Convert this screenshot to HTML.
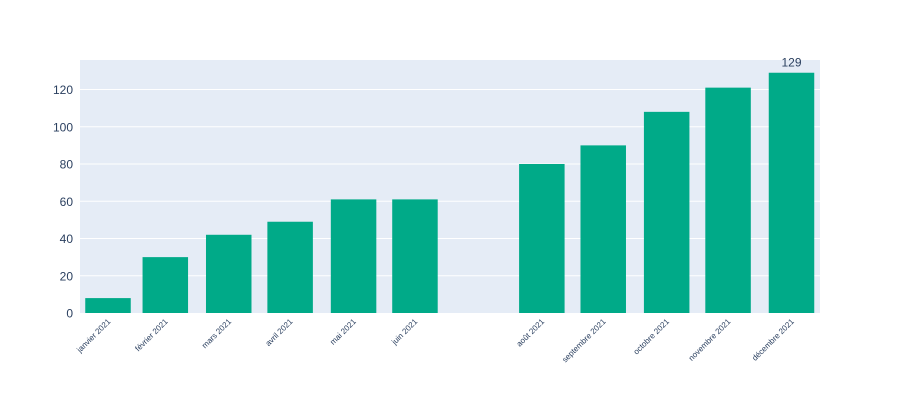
<!DOCTYPE html>
<html><head><meta charset="utf-8"><style>
body{margin:0;background:#fff;font-family:"Liberation Sans",Arial,sans-serif}
</style></head><body>
<svg id="chart" width="900" height="400" xmlns="http://www.w3.org/2000/svg">
<rect x="80" y="60" width="740" height="253" fill="#e5ecf6"/>
<g id="grid"></g><g id="bars"></g><g id="labels"></g>
</svg>
<script>
const categories=["janvier 2021","février 2021","mars 2021","avril 2021","mai 2021","juin 2021","août 2021","septembre 2021","octobre 2021","novembre 2021","décembre 2021"];
const dayOfYear=[30,58,89,119,150,180,242,272,303,333,364];
const values=[8,30,42,49,61,61,80,90,108,121,129];
const yTicks=[0,20,40,60,80,100,120];
const NS="http://www.w3.org/2000/svg";
const xs=d=>108+(d-30)*(683.5/334);
const ys=v=>313-v*(223.5/120);
function mk(t,a,p){const e=document.createElementNS(NS,t);for(const k in a)e.setAttribute(k,a[k]);p.appendChild(e);return e;}
const grid=document.getElementById('grid'),bars=document.getElementById('bars'),labels=document.getElementById('labels');
yTicks.forEach(v=>{
 if(v>0){const l=mk('line',{x1:80,x2:820,y1:ys(v),y2:ys(v),stroke:'#fff','stroke-width':1},grid);
 
 }
 const t=mk('text',{x:73,y:ys(v)+4.5,'text-anchor':'end','font-size':12,fill:'#2a3f5f'},labels);
 t.textContent=v;
 
 
});
const bw=45.5;
values.forEach((v,i)=>{
 const cx=xs(dayOfYear[i]);
 const r=mk('rect',{x:cx-bw/2,y:ys(v),width:bw,height:ys(0)-ys(v),fill:'#00aa88'},bars);
 
 
 const t=mk('text',{x:cx+3,y:322,'text-anchor':'end','font-size':8,fill:'#2a3f5f',transform:`rotate(-45 ${cx+3} 322)`},labels);
 t.textContent=categories[i];
 
 
});
const last=values.length-1;
const vt=mk('text',{x:xs(dayOfYear[last]),y:ys(values[last])-6,'text-anchor':'middle','font-size':12,fill:'#2a3f5f'},labels);
vt.textContent=values[last];


</script>
</body></html>
